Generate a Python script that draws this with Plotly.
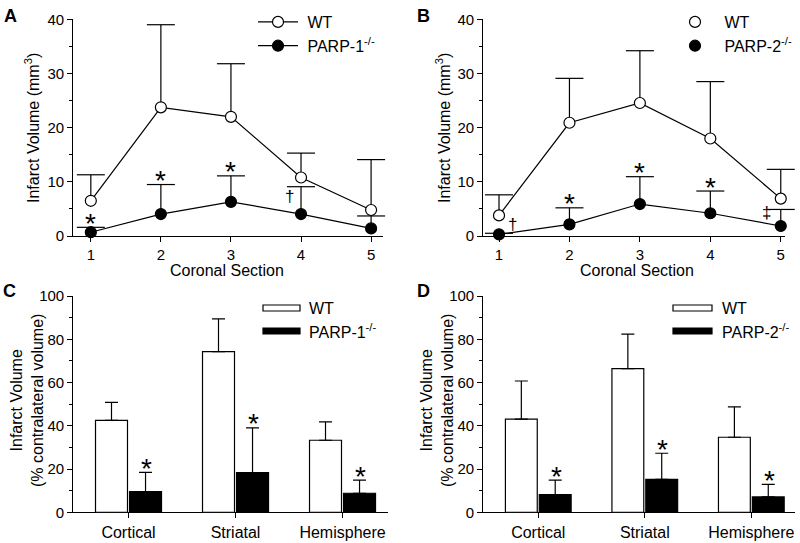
import plotly.graph_objects as go

W, H = 800, 543

# ---- data ----
sections = [1, 2, 3, 4, 5]

a_wt = [6.5, 23.75, 22.0, 10.8, 4.8]
a_wt_err = [4.8, 15.25, 9.8, 4.5, 9.3]
a_ko = [0.7, 4.05, 6.3, 4.05, 1.4]
a_ko_err = [0.9, 5.45, 4.8, 5.05, 2.3]
a_marks = ["*", "*", "*", "†", ""]

b_wt = [3.8, 20.9, 24.55, 18.0, 6.9]
b_wt_err = [3.8, 8.2, 9.65, 10.5, 5.4]
b_ko = [0.3, 2.15, 5.9, 4.2, 1.85]
b_ko_err = [0.2, 3.05, 5.05, 4.1, 3.05]
b_marks = ["†", "*", "*", "*", "‡"]

regions = ["Cortical", "Striatal", "Hemisphere"]
c_wt = [42.5, 74.3, 33.3]
c_wt_err = [8.3, 15.1, 8.5]
c_ko = [9.55, 18.3, 8.8]
c_ko_err = [8.95, 20.7, 6.1]

d_wt = [43.1, 66.4, 34.7]
d_wt_err = [17.6, 16.0, 14.0]
d_ko = [8.2, 15.25, 7.1]
d_ko_err = [6.7, 12.05, 5.8]

FONT = "Liberation Sans, Arial, sans-serif"
BLACK = "black"


def px(x):
    return x / W


def py(y):
    return 1 - y / H


def tops(means, errs):
    return [m + e for m, e in zip(means, errs)]


fig = go.Figure()


def line_panel(xa, ya, wt, wte, ko, koe):
    for vals, errs, fill in [(wt, wte, "white"), (ko, koe, BLACK)]:
        # upward-only error bar, no cap at the point
        fig.add_trace(go.Scatter(
            x=sections, y=vals, mode="lines+markers",
            line=dict(color=BLACK, width=1.2),
            marker=dict(size=11, color=fill, line=dict(color=BLACK, width=1.2)),
            error_y=dict(type="data", symmetric=False, array=errs, arrayminus=[0] * len(errs),
                         color=BLACK, thickness=1.2, width=0),
            cliponaxis=False, showlegend=False, hoverinfo="skip", xaxis=xa, yaxis=ya))
        # caps
        fig.add_trace(go.Scatter(
            x=sections, y=tops(vals, errs), mode="markers",
            marker=dict(symbol="line-ew", size=20, line=dict(color=BLACK, width=1.2)),
            cliponaxis=False, showlegend=False, hoverinfo="skip", xaxis=xa, yaxis=ya))


line_panel("x", "y", a_wt, a_wt_err, a_ko, a_ko_err)
line_panel("x2", "y2", b_wt, b_wt_err, b_ko, b_ko_err)

# legend entries (A: line + marker, B: marker only)
for name, fill, mode, leg in [("&nbsp;WT", "white", "lines+markers", "legend"),
                              ("&nbsp;PARP-1<sup>-/-</sup>", BLACK, "lines+markers", "legend"),
                              ("&nbsp;WT", "white", "markers", "legend2"),
                              ("&nbsp;PARP-2<sup>-/-</sup>", BLACK, "markers", "legend2")]:
    fig.add_trace(go.Scatter(x=[None], y=[None], mode=mode, name=name,
                             line=dict(color=BLACK, width=1.2),
                             marker=dict(size=11, color=fill, line=dict(color=BLACK, width=1.2)),
                             legend=leg, xaxis="x", yaxis="y"))

# ---- panel C / D ----
for xa, ya, wt, wte, ko, koe in [("x3", "y3", c_wt, c_wt_err, c_ko, c_ko_err),
                                 ("x4", "y4", d_wt, d_wt_err, d_ko, d_ko_err)]:
    fig.add_trace(go.Bar(x=regions, y=wt, marker=dict(color="white", line=dict(color=BLACK, width=1.2)),
                         error_y=dict(type="data", symmetric=False, array=wte, arrayminus=[0] * 3,
                                      color=BLACK, thickness=1.2, width=6.5),
                         xaxis=xa, yaxis=ya, showlegend=False, offsetgroup="wt", hoverinfo="skip"))
    fig.add_trace(go.Bar(x=regions, y=ko, marker=dict(color=BLACK, line=dict(color=BLACK, width=1.2)),
                         error_y=dict(type="data", symmetric=False, array=koe, arrayminus=[0] * 3,
                                      color=BLACK, thickness=1.2, width=6.5),
                         xaxis=xa, yaxis=ya, showlegend=False, offsetgroup="ko", hoverinfo="skip"))

# ---- significance marks ----
ann = []
STAR = dict(size=28, color=BLACK, family=FONT)
DAG = dict(size=17, color=BLACK, family=FONT)


def star(x, y, xa, ya, xshift=0):
    return dict(x=x, y=y, xref=xa, yref=ya, text="*", showarrow=False, yanchor="middle",
                xshift=xshift, yshift=4, font=STAR)


for i, m in enumerate(a_marks):
    cap = a_ko[i] + a_ko_err[i]
    if m == "*":
        ann.append(star(sections[i], cap, "x", "y"))
    elif m:
        ann.append(dict(x=sections[i], y=cap, xref="x", yref="y", text=m, showarrow=False,
                        yanchor="middle", xshift=-12, yshift=-10, font=DAG))
for i, m in enumerate(b_marks):
    cap = b_ko[i] + b_ko_err[i]
    if m == "*":
        ann.append(star(sections[i], cap, "x2", "y2"))
    elif m == "†":
        ann.append(dict(x=sections[i], y=b_ko[i], xref="x2", yref="y2", text=m, showarrow=False,
                        yanchor="middle", xshift=13, yshift=10, font=DAG))
    elif m:
        ann.append(dict(x=sections[i], y=cap, xref="x2", yref="y2", text=m, showarrow=False,
                        yanchor="middle", xshift=-14, yshift=-3, font=DAG))
for xa, ya, ko, koe in [("x3", "y3", c_ko, c_ko_err), ("x4", "y4", d_ko, d_ko_err)]:
    for i, r in enumerate(regions):
        ann.append(star(r, ko[i] + koe[i], xa, ya, xshift=18))

# panel letters
for letter, xx, yy in [("A", 10, 16), ("B", 423, 16), ("C", 9, 291), ("D", 423, 291)]:
    ann.append(dict(x=px(xx), y=py(yy), xref="paper", yref="paper", text=f"<b>{letter}</b>",
                    showarrow=False, xanchor="center", yanchor="middle",
                    font=dict(size=18, color=BLACK, family=FONT)))

# axis titles
TF = dict(size=16, color=BLACK, family=FONT)
for txt, xx, yy in [("Infarct Volume (mm<sup>3</sup>)", 32, 128),
                    ("Infarct Volume (mm<sup>3</sup>)", 443, 128),
                    ("Infarct Volume<br>(% contralateral volume)", 27, 401),
                    ("Infarct Volume<br>(% contralateral volume)", 437, 401)]:
    ann.append(dict(x=px(xx), y=py(yy), xref="paper", yref="paper", text=txt, textangle=-90,
                    showarrow=False, xanchor="center", yanchor="middle", font=TF))
for xx in (227, 637):
    ann.append(dict(x=px(xx), y=py(271), xref="paper", yref="paper", text="Coronal Section",
                    showarrow=False, xanchor="center", yanchor="middle", font=TF))

# C/D legends: flat bar swatches
shapes = []
for x0, x1, tx, lab in [(263, 300, 307, "PARP-1<sup>-/-</sup>"), (673, 712, 720, "PARP-2<sup>-/-</sup>")]:
    shapes.append(dict(type="rect", xref="paper", yref="paper", x0=px(x0), x1=px(x1),
                       y0=py(311), y1=py(305), fillcolor="white", line=dict(color=BLACK, width=1.2)))
    shapes.append(dict(type="rect", xref="paper", yref="paper", x0=px(x0), x1=px(x1),
                       y0=py(334), y1=py(328), fillcolor=BLACK, line=dict(color=BLACK, width=1.2)))
    ann.append(dict(x=px(tx), y=py(308), xref="paper", yref="paper", text="WT", showarrow=False,
                    xanchor="left", yanchor="middle", font=TF))
    ann.append(dict(x=px(tx), y=py(331), xref="paper", yref="paper", text=lab, showarrow=False,
                    xanchor="left", yanchor="middle", font=TF))

axis_common = dict(showline=True, linecolor=BLACK, linewidth=1.2, ticks="outside", ticklen=5,
                   tickwidth=1.2, tickcolor=BLACK, showgrid=False, zeroline=False,
                   automargin=False, layer="below traces",
                   tickfont=dict(size=15, color=BLACK, family=FONT))

yline = dict(domain=[py(236), py(19.3)], range=[0, 40], dtick=10,
             minor=dict(ticks="outside", ticklen=3, dtick=5, tickcolor=BLACK, tickwidth=1))
ybar = dict(domain=[py(512.3), py(296)], range=[0, 100], dtick=20,
            minor=dict(ticks="outside", ticklen=3, dtick=10, tickcolor=BLACK, tickwidth=1))
leg = dict(xanchor="left", yanchor="top", bgcolor="rgba(0,0,0,0)",
           font=dict(size=16, color=BLACK, family=FONT), tracegroupgap=0, itemwidth=40)

fig.update_layout(
    width=W, height=H, autosize=False,
    margin=dict(l=0, r=0, t=0, b=0),
    paper_bgcolor="white", plot_bgcolor="white",
    font=dict(family=FONT, color=BLACK, size=16),
    barmode="group", bargap=0.364, bargroupgap=0.06,
    xaxis=dict(axis_common, domain=[px(73.3), px(383)], range=[0.75, 5.17], tickvals=sections, anchor="y"),
    yaxis=dict(axis_common, **yline, anchor="x"),
    xaxis2=dict(axis_common, domain=[px(483.3), px(785)], range=[0.777, 5.06], tickvals=sections, anchor="y2"),
    yaxis2=dict(axis_common, **yline, anchor="x2"),
    xaxis3=dict(axis_common, domain=[px(73.3), px(388)], range=[-0.516, 2.425], anchor="y3",
                tickfont=dict(size=16, color=BLACK, family=FONT)),
    yaxis3=dict(axis_common, **ybar, anchor="x3"),
    xaxis4=dict(axis_common, domain=[px(483.3), px(795)], range=[-0.516, 2.41], anchor="y4",
                tickfont=dict(size=16, color=BLACK, family=FONT)),
    yaxis4=dict(axis_common, **ybar, anchor="x4"),
    legend=dict(leg, x=px(253), y=py(5)),
    legend2=dict(leg, x=px(670), y=py(5)),
    annotations=ann, shapes=shapes,
)

# drop the page's default body margin so the figure sits at the window origin
fig.write_html("out.html", config={"displayModeBar": False},
               post_script="document.body.style.margin='0px';")
